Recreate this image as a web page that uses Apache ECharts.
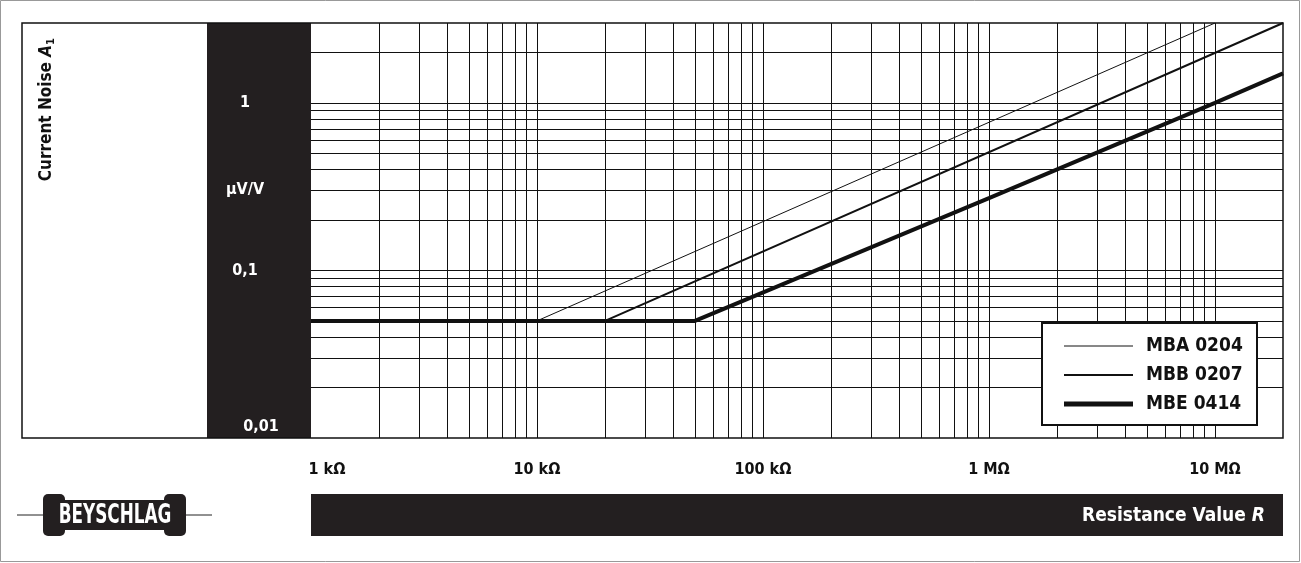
<!DOCTYPE html>
<html>
<head>
<meta charset="utf-8">
<script src="https://cdn.jsdelivr.net/npm/echarts@6/dist/echarts.min.js"></script>
<style>
html,body{margin:0;padding:0;background:#fff;}
#chart{width:1301px;height:563px;}
</style>
</head>
<body>
<div id="chart"></div>
<script>
// resistance values (ohm) and current noise (uV/V)
var mbaX = [1000, 10000, 10000000];
var mbaY = [0.05, 0.05, 3.0];
var mbbX = [1000, 20000, 20000000];
var mbbY = [0.05, 0.05, 3.0];
var mbeX = [1000, 50000, 1000000, 10000000, 20000000];
var mbeY = [0.05, 0.05, 0.27, 1.0, 1.5];
var xGrid = [2e3,3e3,4e3,5e3,6e3,7e3,8e3,9e3,1e4,2e4,3e4,4e4,5e4,6e4,7e4,8e4,9e4,1e5,2e5,3e5,4e5,5e5,6e5,7e5,8e5,9e5,1e6,2e6,3e6,4e6,5e6,6e6,7e6,8e6,9e6,1e7];
var yGrid = [0.02,0.03,0.04,0.05,0.06,0.07,0.08,0.09,0.1,0.2,0.3,0.4,0.5,0.6,0.7,0.8,0.9,1,2];
var xTickLabels = {1000:'{p|1 kΩ}', 10000:'10 kΩ', 100000:'100 kΩ', 1000000:'1 MΩ', 10000000:'10 MΩ'};
var yTickLabels = {0.1:'0,1', 1:'1'};

var font = '"DejaVu Sans Condensed", "Liberation Sans Narrow", "Liberation Sans", sans-serif';

function pairs(xs, ys) {
	var out = [];
	for (var i = 0; i < xs.length; i++) out.push([xs[i], ys[i]]);
	return out;
}

var gridLines = [];
xGrid.forEach(function(v){ gridLines.push({xAxis: v}); });
yGrid.forEach(function(v){ gridLines.push({yAxis: v}); });

var chart = echarts.init(document.getElementById('chart'));
var option = {
	animation: false,
	grid: {left: 311, top: 23, width: 972, height: 415},
	xAxis: {
		type: 'log', logBase: 10, min: 1000, max: 20000000,
		axisLine: {show: false}, axisTick: {show: false}, splitLine: {show: false},
		axisLabel: {
			margin: 24, fontFamily: font, fontWeight: 'bold', fontSize: 16, color: '#111',
			showMaxLabel: false,
			rich: {p: {fontFamily: font, fontWeight: 'bold', fontSize: 16, color: '#111', padding: [0, 0, 0, 32]}},
			formatter: function(v){ return xTickLabels[Math.round(v)] || ''; }
		}
	},
	yAxis: {
		type: 'log', logBase: 10, min: 0.01, max: 3,
		axisLine: {show: false}, axisTick: {show: false}, splitLine: {show: false},
		axisLabel: {
			margin: 66, align: 'center', fontFamily: font, fontWeight: 'bold', fontSize: 16, color: '#fff',
			showMaxLabel: false, showMinLabel: false,
			formatter: function(v){
				var k = v < 0.5 ? 0.1 : 1;
				return Math.abs(v - k) < 1e-9 ? yTickLabels[k] : '';
			},
			verticalAlign: 'middle'
		}
	},
	series: [
		{
			type: 'line', data: [], silent: true,
			markLine: {silent: true, symbol: 'none', label: {show: false},
				lineStyle: {color: '#111', width: 1, type: 'solid'}, data: gridLines}
		},
		{name: 'MBA 0204', type: 'line', data: pairs(mbaX, mbaY), symbol: 'none', lineStyle: {color: '#111', width: 1}, z: 5},
		{name: 'MBB 0207', type: 'line', data: pairs(mbbX, mbbY), symbol: 'none', lineStyle: {color: '#111', width: 2}, z: 6},
		{name: 'MBE 0414', type: 'line', data: pairs(mbeX, mbeY), symbol: 'none', lineStyle: {color: '#111', width: 4}, z: 7}
	],
	graphic: [
		{type: 'rect', shape: {x: 0.5, y: 0.5, width: 1299, height: 561}, style: {fill: 'none', stroke: '#999', lineWidth: 1}, z: -10},
		{type: 'rect', shape: {x: 207, y: 23, width: 104, height: 415}, style: {fill: '#231f20'}, z: -5},
		{type: 'rect', shape: {x: 22, y: 23, width: 1261, height: 415}, style: {fill: 'none', stroke: '#111', lineWidth: 1.5}, z: 20},
		{type: 'text', x: 245, y: 190, style: {text: 'μV/V', fill: '#fff', font: 'bold 16px ' + font, align: 'center', verticalAlign: 'middle'}, z: 20},
		{type: 'text', x: 261, y: 427, style: {text: '0,01', fill: '#fff', font: 'bold 16px ' + font, align: 'center', verticalAlign: 'middle'}, z: 20},
		{type: 'text', x: 47, y: 38, rotation: Math.PI / 2, style: {rich: {a: {font: 'bold 17px ' + font, fill: '#111'}, i: {font: 'italic bold 17px ' + font, fill: '#111'}, s: {font: 'bold 11px ' + font, fill: '#111', verticalAlign: 'bottom', padding: [8, 0, 0, 0]}}, text: '{a|Current Noise }{i|A}{s|1}', align: 'right', verticalAlign: 'middle'}, z: 20},
		// legend
		{type: 'rect', shape: {x: 1042, y: 323, width: 215, height: 102}, style: {fill: '#fff', stroke: '#111', lineWidth: 2}, z: 30},
		{type: 'line', shape: {x1: 1064, y1: 346, x2: 1133, y2: 346}, style: {stroke: '#111', lineWidth: 1}, z: 31},
		{type: 'line', shape: {x1: 1064, y1: 375, x2: 1133, y2: 375}, style: {stroke: '#111', lineWidth: 2}, z: 31},
		{type: 'line', shape: {x1: 1064, y1: 404, x2: 1133, y2: 404}, style: {stroke: '#111', lineWidth: 5}, z: 31},
		{type: 'text', x: 1146, y: 346, style: {text: 'MBA 0204', font: 'bold 19px ' + font, fill: '#111', verticalAlign: 'middle'}, z: 31},
		{type: 'text', x: 1146, y: 375, style: {text: 'MBB 0207', font: 'bold 19px ' + font, fill: '#111', verticalAlign: 'middle'}, z: 31},
		{type: 'text', x: 1146, y: 404, style: {text: 'MBE 0414', font: 'bold 19px ' + font, fill: '#111', verticalAlign: 'middle'}, z: 31},
		// bottom band
		{type: 'rect', shape: {x: 311, y: 494, width: 972, height: 42}, style: {fill: '#231f20'}},
		{type: 'text', x: 1265, y: 516, style: {rich: {a: {font: 'bold 19px ' + font, fill: '#fff'}, i: {font: 'italic bold 19px ' + font, fill: '#fff'}}, text: '{a|Resistance Value }{i|R}', align: 'right', verticalAlign: 'middle'}},
		// logo
		{type: 'line', shape: {x1: 17, y1: 515, x2: 212, y2: 515}, style: {stroke: '#222', lineWidth: 1}},
		{type: 'rect', shape: {x: 50, y: 500, width: 130, height: 30}, style: {fill: '#231f20'}},
		{type: 'rect', shape: {x: 43, y: 494, width: 22, height: 42, r: 5}, style: {fill: '#231f20'}},
		{type: 'rect', shape: {x: 164, y: 494, width: 22, height: 42, r: 5}, style: {fill: '#231f20'}},
		{type: 'text', x: 115, y: 516, scaleX: 0.72, style: {text: 'BEYSCHLAG', font: 'bold 26px ' + font, fill: '#fff', align: 'center', verticalAlign: 'middle'}, z: 5}
	]
};
chart.setOption(option);
</script>
</body>
</html>
